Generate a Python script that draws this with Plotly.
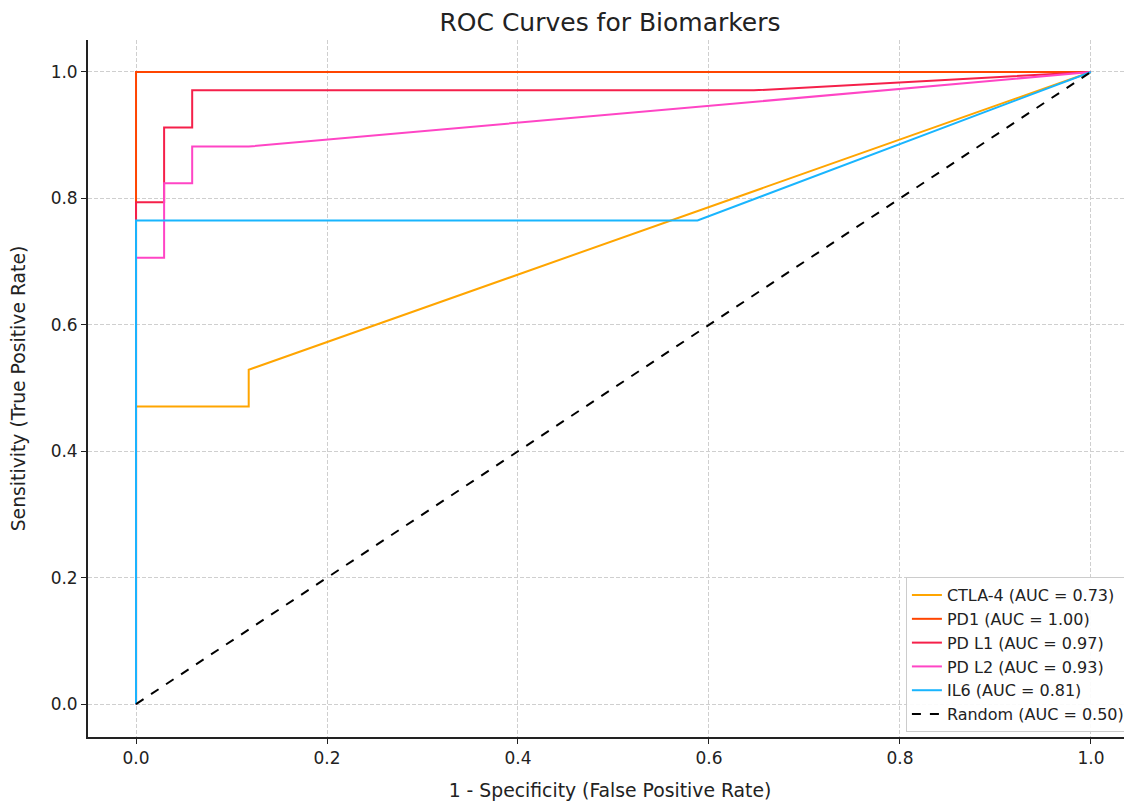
import plotly.graph_objects as go

names = ["CTLA-4 (AUC = 0.73)", "PD1 (AUC = 1.00)", "PD L1 (AUC = 0.97)",
         "PD L2 (AUC = 0.93)", "IL6 (AUC = 0.81)"]
colors = ["#FFA500", "#FF4500", "#F5204A", "#FF45C5", "#19B5FE"]

ctla4_fpr = [0.0, 0.0, 0.118, 0.118, 1.0]
ctla4_tpr = [0.0, 0.471, 0.471, 0.529, 1.0]
pd1_fpr = [0.0, 0.0, 1.0]
pd1_tpr = [0.0, 1.0, 1.0]
pdl1_fpr = [0.0, 0.0, 0.0294, 0.0294, 0.0588, 0.0588, 0.647, 1.0]
pdl1_tpr = [0.0, 0.794, 0.794, 0.912, 0.912, 0.971, 0.971, 1.0]
pdl2_fpr = [0.0, 0.0, 0.0294, 0.0294, 0.0588, 0.0588, 0.118, 1.0]
pdl2_tpr = [0.0, 0.706, 0.706, 0.824, 0.824, 0.882, 0.882, 1.0]
il6_fpr = [0.0, 0.0, 0.588, 1.0]
il6_tpr = [0.0, 0.765, 0.765, 1.0]
random_fpr = [0.0, 1.0]
random_tpr = [0.0, 1.0]

fprs = [ctla4_fpr, pd1_fpr, pdl1_fpr, pdl2_fpr, il6_fpr]
tprs = [ctla4_tpr, pd1_tpr, pdl1_tpr, pdl2_tpr, il6_tpr]

tick_vals = [0.0, 0.2, 0.4, 0.6, 0.8, 1.0]
tick_text = ["0.0", "0.2", "0.4", "0.6", "0.8", "1.0"]

fig = go.Figure()
for n, c, fx, ty in zip(names, colors, fprs, tprs):
    fig.add_trace(go.Scatter(x=fx, y=ty, mode="lines", name=n,
                             line=dict(color=c, width=2)))
fig.add_trace(go.Scatter(x=random_fpr, y=random_tpr, mode="lines",
                         name="Random (AUC = 0.50)",
                         line=dict(color="black", width=2, dash="dash")))

font_family = "DejaVu Sans, sans-serif"
axis_common = dict(
    showline=True, linecolor="#222222", linewidth=1.8, mirror=False,
    ticks="outside", ticklen=5, tickcolor="#222222", tickwidth=1.2,
    showgrid=True, gridcolor="#cfcfcf", griddash="4px,2px", gridwidth=1,
    zeroline=False, tickvals=tick_vals, ticktext=tick_text, automargin=False,
    tickfont=dict(size=17, color="#222222", family=font_family),
)

# page body has an 8px margin; figure is sized so the plot lands where the reference has it
fig.update_layout(
    width=1124, height=793,
    paper_bgcolor="white", plot_bgcolor="white",
    margin=dict(l=80, r=0, t=32, b=64),
    title=dict(text="ROC Curves for Biomarkers", x=0.5, xanchor="center",
               xref="paper", y=0.982, yanchor="middle",
               font=dict(size=25, color="#222222", family=font_family)),
    xaxis=dict(range=[-0.0503, 1.043],
               title=dict(text="1 - Specificity (False Positive Rate)", standoff=20,
                          font=dict(size=18.8, color="#222222", family=font_family)),
               **axis_common),
    yaxis=dict(range=[-0.052, 1.0506],
               title=dict(text="Sensitivity (True Positive Rate)", standoff=22,
                          font=dict(size=18.8, color="#222222", family=font_family)),
               **axis_common),
    legend=dict(x=0.998, y=0.007, xanchor="right", yanchor="bottom",
                bgcolor="rgba(255,255,255,0.9)", bordercolor="#cccccc", borderwidth=1,
                font=dict(size=16, color="#222222", family=font_family),
                tracegroupgap=0),
    showlegend=True,
)

fig.write_html("out.html")
